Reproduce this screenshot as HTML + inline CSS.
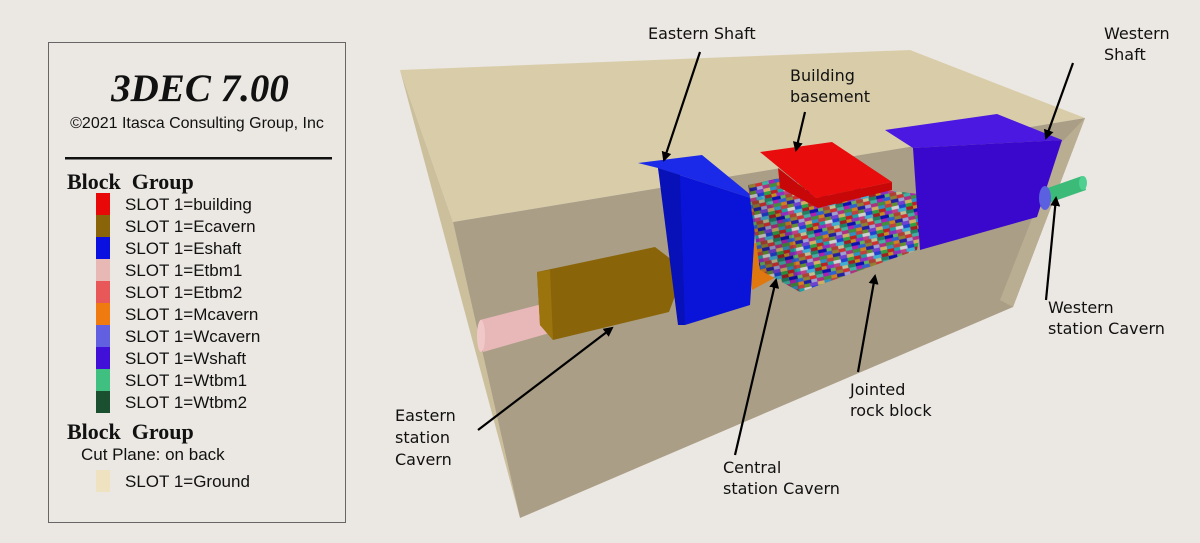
<!DOCTYPE html>
<html><head><meta charset="utf-8"><style>
html,body{margin:0;padding:0;background:#ebe7e2;}
svg{display:block}
.lab{font-family:"DejaVu Sans","Liberation Sans",sans-serif;font-size:16px;fill:#111}
.leg{font-family:"Liberation Sans",sans-serif;font-size:17px;fill:#111}
.bg{font-family:"Liberation Serif",serif;font-weight:bold;font-size:22px;fill:#111}
</style></head><body>
<svg width="1200" height="543" viewBox="0 0 1200 543" xmlns="http://www.w3.org/2000/svg">
<defs>
<marker id="ah" markerWidth="10" markerHeight="10" refX="8" refY="5" orient="auto" markerUnits="userSpaceOnUse" viewBox="0 0 10 10">
<path d="M0,0 L10,5 L0,10 z" fill="#000"/></marker>
<pattern id="mos" width="40" height="24" patternUnits="userSpaceOnUse" patternTransform="rotate(-12) scale(0.85)">
<rect width="40" height="24" fill="#6a4a9a"/>
<rect x="0" y="0" width="8" height="4" fill="#c02020"/><rect x="8" y="0" width="7" height="4" fill="#20a0a0"/>
<rect x="15" y="0" width="9" height="4" fill="#d0d0d0"/><rect x="24" y="0" width="8" height="4" fill="#2040d0"/>
<rect x="32" y="0" width="8" height="4" fill="#30a040"/>
<rect x="0" y="4" width="6" height="4" fill="#c09020"/><rect x="6" y="4" width="9" height="4" fill="#9030c0"/>
<rect x="15" y="4" width="7" height="4" fill="#c04080"/><rect x="22" y="4" width="10" height="4" fill="#40b0d0"/>
<rect x="32" y="4" width="8" height="4" fill="#a02020"/>
<rect x="0" y="8" width="10" height="4" fill="#1010b0"/><rect x="10" y="8" width="6" height="4" fill="#60b060"/>
<rect x="16" y="8" width="8" height="4" fill="#b04030"/><rect x="24" y="8" width="7" height="4" fill="#c0c090"/>
<rect x="31" y="8" width="9" height="4" fill="#208060"/>
<rect x="0" y="12" width="7" height="4" fill="#b020b0"/><rect x="7" y="12" width="9" height="4" fill="#3060d0"/>
<rect x="16" y="12" width="8" height="4" fill="#908030"/><rect x="24" y="12" width="8" height="4" fill="#d03030"/>
<rect x="32" y="12" width="8" height="4" fill="#40b0a0"/>
<rect x="0" y="16" width="9" height="4" fill="#409040"/><rect x="9" y="16" width="7" height="4" fill="#d08020"/>
<rect x="16" y="16" width="9" height="4" fill="#2020a0"/><rect x="25" y="16" width="7" height="4" fill="#a0a0d0"/>
<rect x="32" y="16" width="8" height="4" fill="#b03080"/>
<rect x="0" y="20" width="8" height="4" fill="#3090c0"/><rect x="8" y="20" width="8" height="4" fill="#c04040"/>
<rect x="16" y="20" width="7" height="4" fill="#609030"/><rect x="23" y="20" width="9" height="4" fill="#7040d0"/>
<rect x="32" y="20" width="8" height="4" fill="#d0b060"/>
</pattern>
</defs>

<!-- Legend -->
<rect x="48.5" y="42.5" width="297" height="480" fill="#ebe8e3" stroke="#666" stroke-width="1"/>
<text x="200" y="101" text-anchor="middle" font-family="Liberation Serif,serif" font-weight="bold" font-style="italic" font-size="39" fill="#111">3DEC 7.00</text>
<text x="197" y="128" text-anchor="middle" font-family="Liberation Sans,sans-serif" font-size="16" fill="#111">©2021 Itasca Consulting Group, Inc</text>
<rect x="65" y="157" width="267" height="2.5" fill="#111"/>
<text x="67" y="189" class="bg">Block&#160;&#160;Group</text>
<rect x="96" y="193" width="14" height="22" fill="#e80808"/>
<rect x="96" y="215" width="14" height="22" fill="#8a6408"/>
<rect x="96" y="237" width="14" height="22" fill="#0a10e0"/>
<rect x="96" y="259" width="14" height="22" fill="#e8b8b4"/>
<rect x="96" y="281" width="14" height="22" fill="#e85858"/>
<rect x="96" y="303" width="14" height="22" fill="#ee7a10"/>
<rect x="96" y="325" width="14" height="22" fill="#6060e0"/>
<rect x="96" y="347" width="14" height="22" fill="#4010d8"/>
<rect x="96" y="369" width="14" height="22" fill="#40c080"/>
<rect x="96" y="391" width="14" height="22" fill="#1a5030"/>
<g class="leg">
<text x="125" y="210">SLOT 1=building</text>
<text x="125" y="232">SLOT 1=Ecavern</text>
<text x="125" y="254">SLOT 1=Eshaft</text>
<text x="125" y="276">SLOT 1=Etbm1</text>
<text x="125" y="298">SLOT 1=Etbm2</text>
<text x="125" y="320">SLOT 1=Mcavern</text>
<text x="125" y="342">SLOT 1=Wcavern</text>
<text x="125" y="364">SLOT 1=Wshaft</text>
<text x="125" y="386">SLOT 1=Wtbm1</text>
<text x="125" y="408">SLOT 1=Wtbm2</text>
<text x="81" y="460">Cut Plane: on back</text>
<text x="125" y="487">SLOT 1=Ground</text>
</g>
<text x="67" y="439" class="bg">Block&#160;&#160;Group</text>
<rect x="96" y="470" width="14" height="22" fill="#efe2c0"/>

<!-- Ground box -->
<polygon points="400,70 910,50 1085,118 453,222" fill="#d9cda9"/>
<polygon points="400,70 453,222 520,518" fill="#cbbf9c"/>
<polygon points="453,222 1085,118 1013,307 520,518" fill="#aa9e86"/>
<polygon points="1062,142 1085,118 1013,307 1000,300" fill="#b9ad92"/>

<!-- pink tube -->
<polygon points="480,320 550,302 553,332 483,352" fill="#e8b8b8"/>
<ellipse cx="481" cy="336" rx="4" ry="16" fill="#f0c8c8"/>
<!-- eastern cavern -->
<polygon points="537,272 655,247 672,260 678,288 669,312 553,340 540,325" fill="#8a6408"/>
<polygon points="537,272 550,270 553,340 540,325" fill="#9c740e"/>
<!-- orange -->
<polygon points="748,245 768,240 778,276 752,290" fill="#e07810"/>
<!-- eastern shaft -->
<polygon points="638,163 702,155 757,200 658,168" fill="#1a2ae8"/>
<polygon points="658,168 757,200 750,305 685,325" fill="#0a14d8"/>
<polygon points="658,168 680,175 685,325 678,325" fill="#0810b8"/>
<!-- jointed block -->
<polygon points="748,185 780,178 927,195 917,250 800,292 760,270" fill="url(#mos)"/>
<polygon points="748,185 790,222 800,292 760,270" fill="#000" opacity="0.12"/>
<!-- red -->
<polygon points="778,168 816,198 892,182 892,190 818,208 780,188" fill="#c80808"/>
<polygon points="760,152 832,142 892,182 816,198" fill="#e80c0c"/>
<!-- western shaft -->
<polygon points="885,130 997,114 1062,140 913,148" fill="#4a18e0"/>
<polygon points="913,148 1062,140 1037,217 920,250" fill="#3a08cc"/>
<!-- green & wcavern -->
<polygon points="1042,190 1082,176 1086,190 1046,204" fill="#3cba78"/>
<ellipse cx="1083" cy="183" rx="4" ry="7" fill="#50d090"/>
<ellipse cx="1045" cy="198" rx="6" ry="12" fill="#5a60e0"/>

<!-- arrows -->
<g stroke="#000" stroke-width="2.2" fill="none" marker-end="url(#ah)">
<line x1="700" y1="52" x2="664" y2="160"/>
<line x1="805" y1="112" x2="796" y2="150"/>
<line x1="1073" y1="63" x2="1046" y2="138"/>
<line x1="1046" y1="300" x2="1056" y2="198"/>
<line x1="858" y1="372" x2="875" y2="276"/>
<line x1="735" y1="455" x2="776" y2="280"/>
<line x1="478" y1="430" x2="612" y2="328"/>
</g>

<!-- labels -->
<g class="lab">
<text x="648" y="39">Eastern Shaft</text>
<text x="790" y="81">Building</text>
<text x="790" y="102">basement</text>
<text x="1104" y="39">Western</text>
<text x="1104" y="60">Shaft</text>
<text x="1048" y="313">Western</text>
<text x="1048" y="334">station Cavern</text>
<text x="850" y="395">Jointed</text>
<text x="850" y="416">rock block</text>
<text x="723" y="473">Central</text>
<text x="723" y="494">station Cavern</text>
<text x="395" y="421">Eastern</text>
<text x="395" y="443">station</text>
<text x="395" y="465">Cavern</text>
</g>
</svg>
</body></html>
